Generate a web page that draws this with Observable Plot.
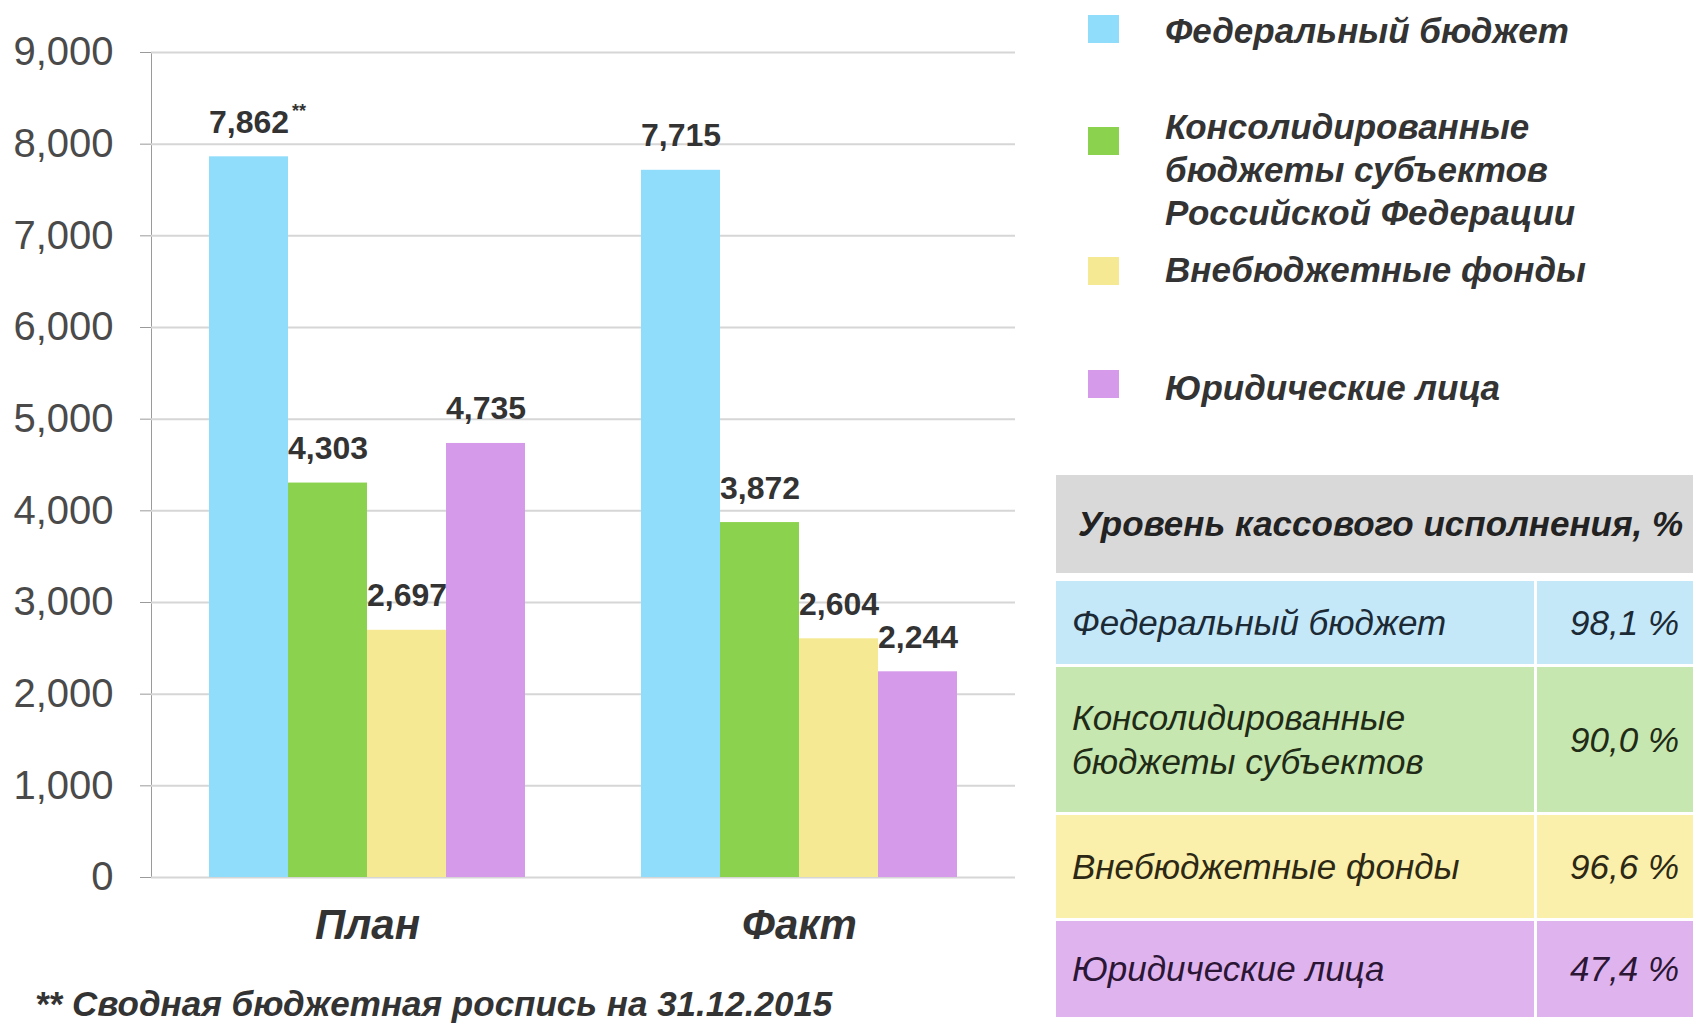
<!DOCTYPE html>
<html>
<head>
<meta charset="utf-8">
<script src="https://cdn.jsdelivr.net/npm/d3@7"></script>
<script src="https://cdn.jsdelivr.net/npm/@observablehq/plot@0.6"></script>
<style>
  html, body { margin: 0; padding: 0; background: #fff; }
  body { width: 1693px; height: 1024px; position: relative; overflow: hidden; font-family: "Liberation Sans", Arial, sans-serif; }
  #chart { position: absolute; left: 0; top: 0; width: 1030px; height: 957px; }
  #chart svg { position: absolute; left: 0; top: 0; }
  .pa text { fill: #4a4a4a; }
  .pb text { fill: #333; }
  .foot { position: absolute; left: 35px; top: 984px; font-size: 35px; line-height: 40px; font-weight: bold; font-style: italic; color: #333; white-space: nowrap; }
  .leg-sw { position: absolute; width: 31px; height: 28px; }
  .leg-tx { position: absolute; font-size: 35px; line-height: 43px; font-weight: bold; font-style: italic; color: #333; white-space: pre; }
  .tb { position: absolute; }
  .tb-head { position: absolute; background: #d9d9d9; font-weight: bold; font-style: italic; font-size: 35px; color: #222; display: flex; align-items: center; box-sizing: border-box; padding-left: 22px; white-space: nowrap; overflow: hidden; }
  .tb-cell { position: absolute; display: flex; align-items: center; box-sizing: border-box; font-style: italic; font-size: 35px; line-height: 44px; white-space: pre; }
</style>
</head>
<body>
<div id="chart"></div>
<div class="foot" id="foot"></div>
<div id="legend"></div>
<div id="table"></div>
<script>
// ---- data ----
const groups = ["План", "Факт"];
const series = ["Федеральный бюджет", "Консолидированные бюджеты субъектов Российской Федерации", "Внебюджетные фонды", "Юридические лица"];
const planValues = [7862, 4303, 2697, 4735];
const factValues = [7715, 3872, 2604, 2244];
const planNotes = ["**", "", "", ""];
const factNotes = ["", "", "", ""];
const seriesColors = ["#8fdcfb", "#8bd34e", "#f5e993", "#d59aea"];
const yTicks = [0, 1000, 2000, 3000, 4000, 5000, 6000, 7000, 8000, 9000];
const legendLabels = ["Федеральный бюджет", "Консолидированные\nбюджеты субъектов\nРоссийской Федерации", "Внебюджетные фонды", "Юридические лица"];
const footnote = "** Сводная бюджетная роспись на 31.12.2015";
const tableTitle = "Уровень кассового исполнения, %";
const tableLabels = ["Федеральный бюджет", "Консолидированные\nбюджеты субъектов", "Внебюджетные фонды", "Юридические лица"];
const tablePercents = ["98,1 %", "90,0 %", "96,6 %", "47,4 %"];
const tableRowColors = ["#c4e8f8", "#c7e7b0", "#faf0ac", "#dfb4ee"];
const tableTextColors = ["#1c2a36", "#1f2b16", "#2c2814", "#2c1636"];

// ---- build table ----
const data = [];
series.forEach((s, i) => data.push({group: groups[0], series: s, value: planValues[i], note: planNotes[i]}));
series.forEach((s, i) => data.push({group: groups[1], series: s, value: factValues[i], note: factNotes[i]}));

const fmt = d3.format(",");
const W = 1030, H = 957;
const margins = {marginTop: 52, marginBottom: 80, marginLeft: 151, marginRight: 15};
const font = "'Liberation Sans', Arial, sans-serif";

// Layer A: y axis & grid
const plotA = Plot.plot({
  width: W, height: H, ...margins,
  className: "pa",
  style: {background: "transparent", fontSize: "40px", fontFamily: font, color: "#9a9a9a", overflow: "visible"},
  y: {domain: [0, 9000], ticks: yTicks, tickFormat: fmt, tickSize: 11, tickPadding: 27, label: null, line: true},
  marks: [
    Plot.ruleY(yTicks, {stroke: "#d6d6d6", strokeWidth: 2})
  ]
});

// Layer B: bars, labels, group axis
const plotB = Plot.plot({
  width: W, height: H, ...margins,
  className: "pb",
  style: {background: "transparent", fontSize: "42px", fontFamily: font, fontWeight: "bold", fontStyle: "italic", color: "#333", overflow: "visible"},
  fx: {domain: groups, paddingInner: 0.268, paddingOuter: 0.134, label: null, axis: "bottom", tickSize: 0, tickPadding: 32},
  x: {domain: series, padding: 0, axis: null},
  y: {domain: [0, 9000], axis: null},
  color: {domain: series, range: seriesColors},
  marks: [
    Plot.barY(data, {fx: "group", x: "series", y: "value", fill: "series"}),
    Plot.text(data, {fx: "group", x: "series", y: "value", text: d => fmt(d.value), lineAnchor: "bottom", dy: -24, fontSize: 32, fontWeight: "bold", fontStyle: "normal"}),
    Plot.text(data.filter(d => d.note), {fx: "group", x: "series", y: "value", text: "note", lineAnchor: "bottom", dy: -40, dx: 50, fontSize: 18, fontWeight: "bold", fontStyle: "normal"})
  ]
});

const chart = document.getElementById("chart");
chart.appendChild(plotA);
chart.appendChild(plotB);

document.getElementById("foot").textContent = footnote;

// ---- legend ----
const legSquareTop = [15, 127, 257, 370];
const legTextTop = [9, 105, 248, 366];
const legend = document.getElementById("legend");
legendLabels.forEach((lab, i) => {
  const sw = document.createElement("div");
  sw.className = "leg-sw";
  sw.style.left = "1088px"; sw.style.top = legSquareTop[i] + "px";
  sw.style.background = seriesColors[i];
  legend.appendChild(sw);
  const tx = document.createElement("div");
  tx.className = "leg-tx";
  tx.style.left = "1165px"; tx.style.top = legTextTop[i] + "px";
  tx.textContent = lab;
  legend.appendChild(tx);
});

// ---- side table ----
const table = document.getElementById("table");
const head = document.createElement("div");
head.className = "tb-head";
Object.assign(head.style, {left: "1056px", top: "475px", width: "640px", height: "98px"});
head.textContent = tableTitle;
table.appendChild(head);
const rowTop = [581, 667, 815, 921];
const rowH = [83, 145, 103, 96];
tableLabels.forEach((lab, i) => {
  const c1 = document.createElement("div");
  c1.className = "tb-cell";
  Object.assign(c1.style, {left: "1056px", top: rowTop[i] + "px", width: "478px", height: rowH[i] + "px", background: tableRowColors[i], color: tableTextColors[i], paddingLeft: "16px"});
  c1.textContent = lab;
  table.appendChild(c1);
  const c2 = document.createElement("div");
  c2.className = "tb-cell";
  Object.assign(c2.style, {left: "1537px", top: rowTop[i] + "px", width: "160px", height: rowH[i] + "px", background: tableRowColors[i], color: tableTextColors[i], justifyContent: "flex-end", paddingRight: "18px"});
  c2.textContent = tablePercents[i];
  table.appendChild(c2);
});
</script>
</body>
</html>
